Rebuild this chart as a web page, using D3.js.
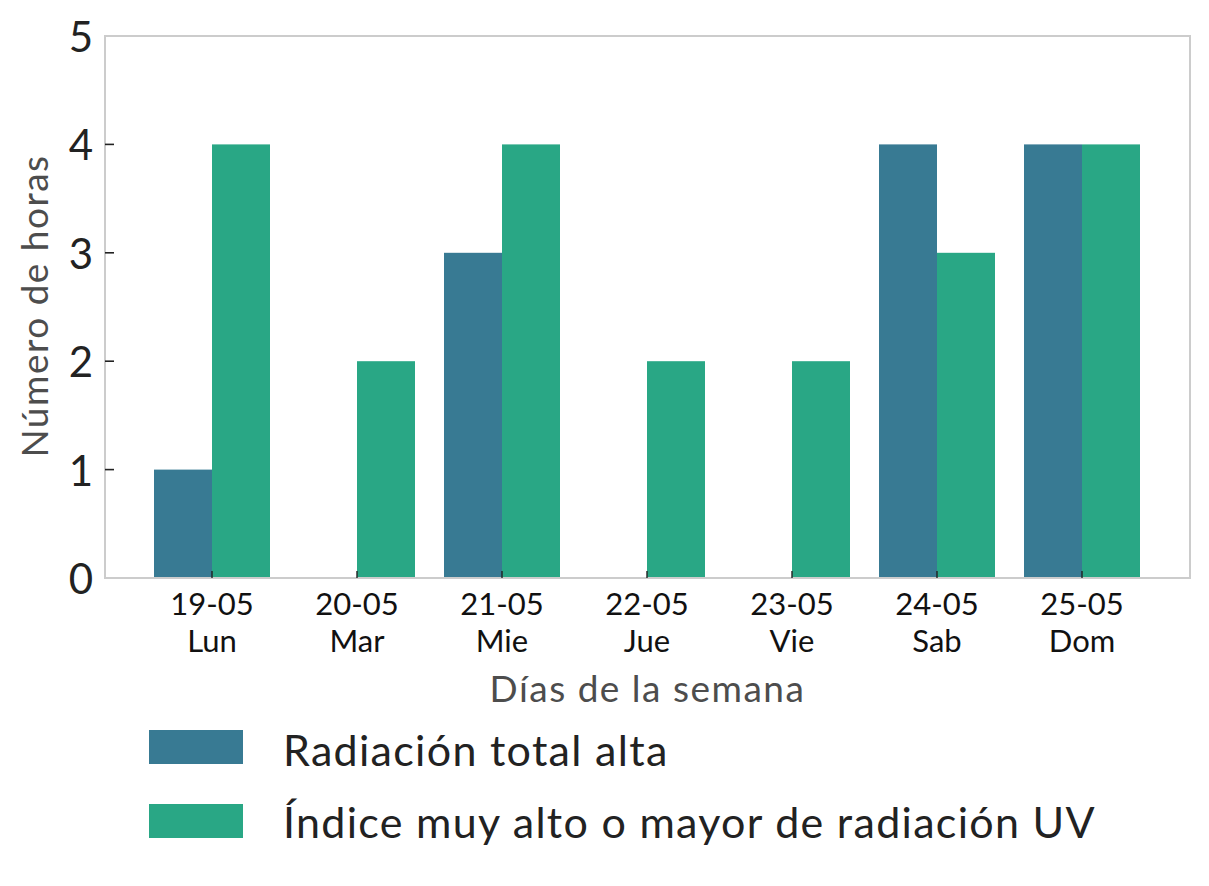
<!DOCTYPE html>
<html><head><meta charset="utf-8">
<script src="https://cdn.jsdelivr.net/npm/d3@7"></script>
<style>body{margin:0;background:#fff;} svg{display:block;font-family:Lato,"Noto Sans",sans-serif;}</style>
</head><body>
<svg id="c" width="1209" height="886"></svg>
<script>
const fechas = ["19-05","20-05","21-05","22-05","23-05","24-05","25-05"];
const dias = ["Lun","Mar","Mie","Jue","Vie","Sab","Dom"];
const radiacionTotal = [1,0,3,0,0,4,4];
const indiceUV = [4,2,4,2,2,3,4];
const series = ["Radiación total alta","Índice muy alto o mayor de radiación UV"];
const colores = ["#387a93","#29a785"];
const yTicks = [0,1,2,3,4,5];

const svg = d3.select("#c");
const L=105,R=1190,T=36,B=578;
const x = d3.scaleBand().domain(fechas).range([139.5,1154.5]).paddingInner(0).paddingOuter(0);
const xs = d3.scaleBand().domain([0,1]).range([0, x.bandwidth()*0.8]);
const y = d3.scaleLinear().domain([0,5]).range([B,T]);

const data = [radiacionTotal, indiceUV];
data.forEach((vals,si)=>{
  svg.append("g").selectAll("rect").data(vals).join("rect")
    .attr("x",(d,i)=>x(fechas[i]) + x.bandwidth()*0.1 + xs(si))
    .attr("width",xs.bandwidth())
    .attr("y",d=>y(d)).attr("height",d=>B-y(d))
    .attr("fill",colores[si]);
});

svg.append("rect").attr("x",L).attr("y",T).attr("width",R-L).attr("height",B-T)
  .attr("fill","none").attr("stroke","#cccccc").attr("stroke-width",2);

const yg = svg.append("g");
yTicks.forEach(t=>{
  yg.append("line").attr("x1",L).attr("x2",L+9).attr("y1",y(t)).attr("y2",y(t))
    .attr("stroke",t===0||t===5?"#cccccc":"#222").attr("stroke-width",1.6);
  yg.append("text").attr("x",93).attr("y",y(t)+16)
    .attr("text-anchor","end").attr("font-size",42).attr("fill","#222").text(t);
});

const xg = svg.append("g");
fechas.forEach((f,i)=>{
  const cx = x(f)+x.bandwidth()/2;
  xg.append("line").attr("x1",cx).attr("x2",cx).attr("y1",B).attr("y2",B-7)
    .attr("stroke","#222").attr("stroke-width",1.4);
  const t = xg.append("text").attr("text-anchor","middle").attr("font-size",31).attr("fill","#111");
  t.append("tspan").attr("x",cx).attr("y",615).text(f);
  t.append("tspan").attr("x",cx).attr("y",652).text(dias[i]);
});

svg.append("text").attr("x",(L+R)/2).attr("y",702).attr("text-anchor","middle")
  .attr("font-size",37).attr("letter-spacing",1.5).attr("fill","#4d4d4d").text("Días de la semana");
svg.append("text").attr("transform",`translate(48,${(T+B)/2 - 1}) rotate(-90)`)
  .attr("text-anchor","middle").attr("font-size",37).attr("letter-spacing",1.5).attr("fill","#4d4d4d").text("Número de horas");

const lg = svg.append("g");
const baselines = [766, 838];
series.forEach((s,i)=>{
  const yy = 730 + i*74;
  lg.append("rect").attr("x",149).attr("y",yy).attr("width",94).attr("height",34).attr("fill",colores[i]);
  lg.append("text").attr("x",283).attr("y",baselines[i])
    .attr("font-size",43).attr("letter-spacing",1.3).attr("fill","#222").text(s);
});
</script>
</body></html>
